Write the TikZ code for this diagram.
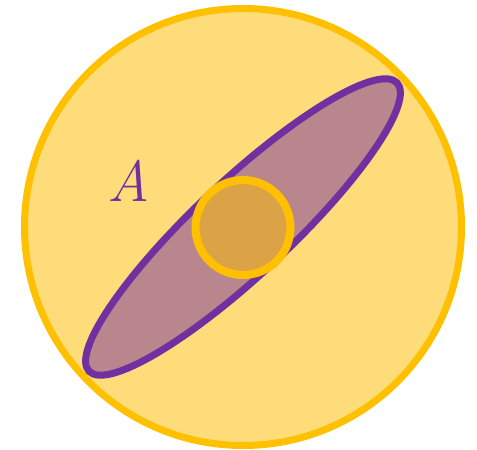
\documentclass[tikz,border=0pt]{standalone}
\usepackage{fontspec}
\definecolor{bigfill}{RGB}{255,220,122}
\definecolor{gold}{RGB}{255,192,0}
\definecolor{purp}{RGB}{112,48,160}
\definecolor{elfill}{RGB}{184,134,140}
\definecolor{smallfill}{RGB}{220,163,70}
\begin{document}
\begin{tikzpicture}[x=1pt,y=-1pt,
  bigc/.style={fill=bigfill,draw=gold,line width=7pt},
  ell/.style={fill=elfill,draw=purp,line width=7pt},
  smallc/.style={fill=smallfill,draw=gold,line width=8pt},
  lab/.style={text=purp,font=\fontsize{58}{58}\selectfont\itshape}]
\useasboundingbox (0,0) rectangle (477,450);
\coordinate (c) at (243,227);
\draw[bigc] (c) circle[radius=218.5];
\draw[ell] (c) ellipse[x radius=211,y radius=47,rotate=43.1];
\draw[smallc] (243,227.5) circle[radius=47.5];
\node[lab] (A) at (129,181) {A};
\end{tikzpicture}
\end{document}
